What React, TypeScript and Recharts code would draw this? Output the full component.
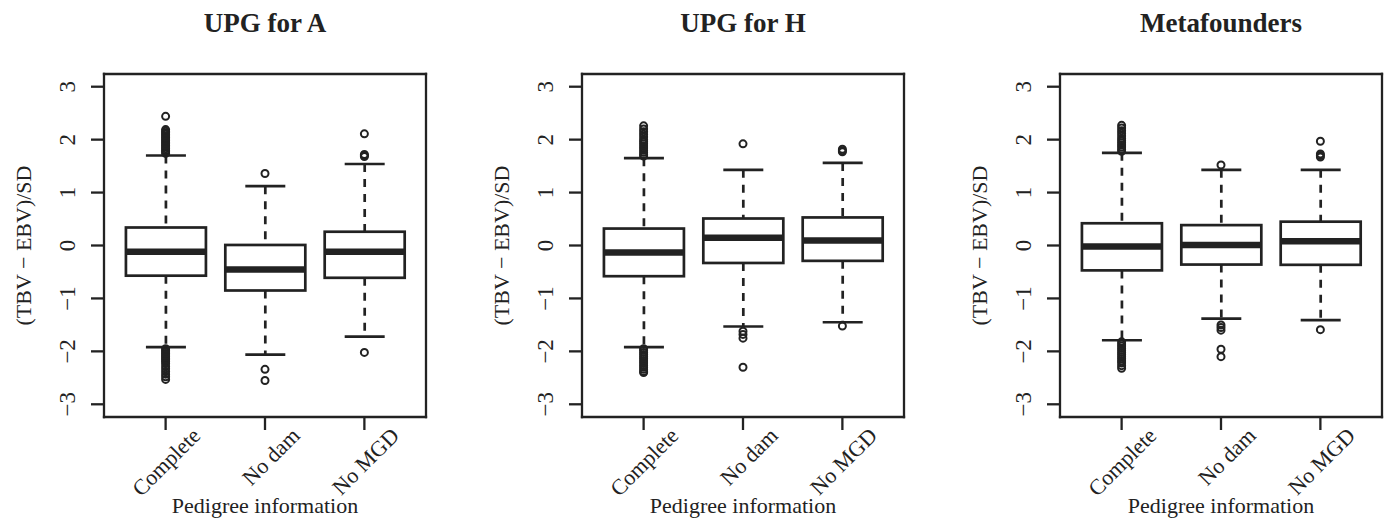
import React from 'react';
import { ComposedChart, XAxis, YAxis, Bar, Scatter, Label } from 'recharts';

const groups = ['Complete', 'No dam', 'No MGD'];
const panelTitles = ['UPG for A', 'UPG for H', 'Metafounders'];
const yTicks = [-3, -2, -1, 0, 1, 2, 3];
const xLabel = 'Pedigree information';
const yLabel = '(TBV \u2212 EBV)/SD';

// UPG for A
const upgALower = [-1.92, -2.06, -1.72];
const upgAQ1 = [-0.57, -0.85, -0.61];
const upgAMedian = [-0.12, -0.455, -0.12];
const upgAQ3 = [0.34, 0.01, 0.26];
const upgAUpper = [1.7, 1.12, 1.54];
const upgAOutliers = [
  [2.44, 2.19, 2.16, 2.13, 2.1, 2.07, 2.04, 2.01, 1.98, 1.95, 1.92, 1.89, 1.86, 1.83, 1.8, 1.77, 1.74,
    -1.95, -1.98, -2.01, -2.04, -2.07, -2.1, -2.13, -2.16, -2.19, -2.23, -2.28, -2.33, -2.38, -2.43, -2.48, -2.53],
  [1.36, -2.34, -2.55],
  [2.11, 1.72, 1.7, 1.68, -2.02],
];

// UPG for H
const upgHLower = [-1.92, -1.53, -1.45];
const upgHQ1 = [-0.58, -0.33, -0.29];
const upgHMedian = [-0.13, 0.145, 0.095];
const upgHQ3 = [0.32, 0.51, 0.53];
const upgHUpper = [1.65, 1.43, 1.56];
const upgHOutliers = [
  [2.26, 2.2, 2.15, 2.1, 2.05, 2.0, 1.96, 1.92, 1.88, 1.84, 1.8, 1.76, 1.72, 1.69,
    -1.95, -1.98, -2.02, -2.06, -2.1, -2.14, -2.18, -2.22, -2.26, -2.3, -2.34, -2.38, -2.4],
  [1.92, -1.62, -1.68, -1.75, -2.3],
  [1.82, 1.79, 1.77, -1.52],
];

// Metafounders
const metaLower = [-1.79, -1.38, -1.41];
const metaQ1 = [-0.47, -0.36, -0.365];
const metaMedian = [-0.02, 0.01, 0.08];
const metaQ3 = [0.42, 0.385, 0.45];
const metaUpper = [1.75, 1.43, 1.43];
const metaOutliers = [
  [2.27, 2.22, 2.17, 2.12, 2.07, 2.02, 1.98, 1.94, 1.9, 1.86, 1.82, 1.78,
    -1.82, -1.86, -1.9, -1.94, -1.98, -2.02, -2.06, -2.1, -2.14, -2.18, -2.22, -2.27, -2.32],
  [1.52, -1.5, -1.55, -1.6, -1.96, -2.1],
  [1.97, 1.73, 1.7, 1.67, -1.59],
];

const panels = [
  { title: panelTitles[0], lower: upgALower, q1: upgAQ1, median: upgAMedian, q3: upgAQ3, upper: upgAUpper, outliers: upgAOutliers },
  { title: panelTitles[1], lower: upgHLower, q1: upgHQ1, median: upgHMedian, q3: upgHQ3, upper: upgHUpper, outliers: upgHOutliers },
  { title: panelTitles[2], lower: metaLower, q1: metaQ1, median: metaMedian, q3: metaQ3, upper: metaUpper, outliers: metaOutliers },
];

const INK = '#222';
const FONT = '"Liberation Serif", "Times New Roman", serif';
const frameLine = { stroke: INK, strokeWidth: 2.3, strokeLinecap: 'square' as const };

const fmt = (v: number) => (v < 0 ? '\u2212' + Math.abs(v) : String(v));

const BoxShape = (props: any) => {
  const { x, y, width, height, payload } = props;
  const top = Math.min(y, y + height);
  const span = Math.abs(height);
  const [lo, hi] = payload.whiskers;
  const py = (v: number) => top + ((hi - v) / (hi - lo)) * span;
  const cx = x + width / 2;
  const cap = width / 4;
  return (
    <g stroke={INK} strokeWidth={2.7}>
      <line x1={cx} x2={cx} y1={py(hi)} y2={py(payload.q3)} strokeDasharray="8 7" />
      <line x1={cx} x2={cx} y1={py(payload.q1)} y2={py(lo)} strokeDasharray="8 7" />
      <line x1={cx - cap} x2={cx + cap} y1={py(hi)} y2={py(hi)} />
      <line x1={cx - cap} x2={cx + cap} y1={py(lo)} y2={py(lo)} />
      <rect x={x} y={py(payload.q3)} width={width} height={py(payload.q1) - py(payload.q3)} fill="#fff" />
      <line x1={x} x2={x + width} y1={py(payload.median)} y2={py(payload.median)} strokeWidth={6.5} />
    </g>
  );
};

const Dot = (p: any) => <circle cx={p.cx} cy={p.cy} r={3.5} fill="none" stroke={INK} strokeWidth={2} />;

const CatTick = (p: any) => (
  <text
    transform={`translate(${p.x + 36},${p.y + 5}) rotate(-45)`}
    textAnchor="end"
    fontSize={22}
    fontFamily={FONT}
    fill={INK}
  >
    {groups[p.payload.value - 1]}
  </text>
);

const ValTick = (p: any) => (
  <text
    transform={`translate(${p.x - 14},${p.y}) rotate(-90)`}
    textAnchor="middle"
    fontSize={23}
    fontFamily={FONT}
    fill={INK}
  >
    {fmt(p.payload.value)}
  </text>
);

const YTitle = (p: any) => {
  const vb = p.viewBox;
  return (
    <text
      transform={`translate(31,${vb.y + vb.height / 2}) rotate(-90)`}
      textAnchor="middle"
      fontSize={22}
      fontFamily={FONT}
      fill={INK}
    >
      {yLabel}
    </text>
  );
};

const Panel = ({ panel, left }: { panel: (typeof panels)[number]; left: number }) => {
  const rows = groups.map((g, i) => ({
    pos: i + 1,
    name: g,
    whiskers: [panel.lower[i], panel.upper[i]],
    q1: panel.q1[i],
    median: panel.median[i],
    q3: panel.q3[i],
  }));
  const outlierRows = panel.outliers.flatMap((vals, i) => vals.map((v) => ({ pos: i + 1, v })));
  const xDomain = [0.38, 3.62];
  const yDomain = [-3.24, 3.24];

  return (
    <div style={{ position: 'absolute', left, top: 0 }}>
      <div
        style={{
          position: 'absolute',
          left: 104,
          top: 10,
          width: 322,
          textAlign: 'center',
          fontFamily: FONT,
          fontWeight: 'bold',
          fontSize: 27,
          lineHeight: '27px',
          color: INK,
        }}
      >
        {panel.title}
      </div>
      <ComposedChart width={430} height={519} data={rows} margin={{ top: 73, right: 3, bottom: 0, left: 0 }}>
        <XAxis
          dataKey="pos"
          type="number"
          domain={xDomain}
          allowDataOverflow
          ticks={[1, 2, 3]}
          height={102}
          tickSize={13}
          axisLine={frameLine}
          tickLine={{ stroke: INK, strokeWidth: 2.3 }}
          tick={<CatTick />}
          interval={0}
        >
          <Label value={xLabel} position="insideBottom" offset={6} fontSize={22} fontFamily={FONT} fill={INK} />
        </XAxis>
        <XAxis
          xAxisId="top"
          orientation="top"
          dataKey="pos"
          type="number"
          domain={xDomain}
          allowDataOverflow
          height={1}
          tick={false}
          tickLine={false}
          axisLine={frameLine}
        />
        <YAxis
          type="number"
          domain={yDomain}
          allowDataOverflow
          ticks={yTicks}
          width={104}
          tickSize={13}
          axisLine={frameLine}
          tickLine={{ stroke: INK, strokeWidth: 2.3 }}
          tick={<ValTick />}
          interval={0}
        >
          <Label content={<YTitle />} />
        </YAxis>
        <YAxis
          yAxisId="right"
          orientation="right"
          type="number"
          domain={yDomain}
          allowDataOverflow
          width={1}
          tick={false}
          tickLine={false}
          axisLine={frameLine}
        />
        <Bar dataKey="whiskers" barSize={80} shape={<BoxShape />} isAnimationActive={false} />
        <Scatter data={outlierRows} dataKey="v" shape={<Dot />} isAnimationActive={false} />
      </ComposedChart>
    </div>
  );
}

export default function App() {
  return (
    <div style={{ position: 'absolute', left: 0, top: 0, width: 1388, height: 519, background: '#fff', overflow: 'hidden' }}>
      {panels.map((p, i) => (
        <Panel key={p.title} panel={p} left={i * 478} />
      ))}
    </div>
  );
}
